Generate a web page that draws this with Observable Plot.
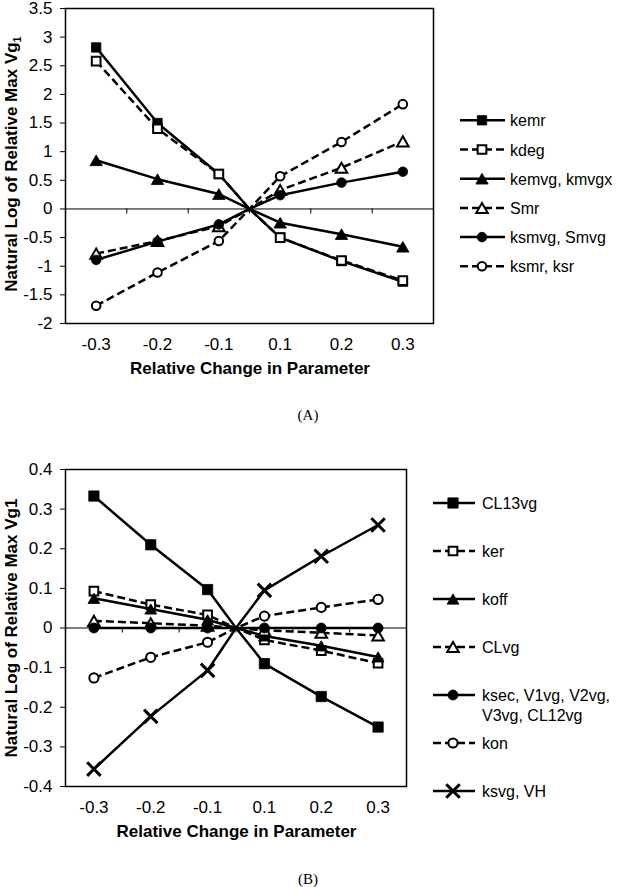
<!DOCTYPE html>
<html><head><meta charset="utf-8">
<script src="https://cdn.jsdelivr.net/npm/d3@7"></script>
<script src="https://cdn.jsdelivr.net/npm/@observablehq/plot@0.6"></script>
<style>
body{margin:0;background:#fff;}
#page{position:relative;width:618px;height:887px;overflow:hidden;background:#fff}
.panel{position:absolute;left:0}
.cap{position:absolute;font-family:"Liberation Serif","DejaVu Serif",serif;font-size:15px;font-variant:small-caps;transform:translate(-50%,-50%);white-space:nowrap}
</style></head><body><div id="page"></div>
<script>
// ---------- shared x categories ----------
const xValues = [-0.3, -0.2, -0.1, 0, 0.1, 0.2, 0.3];
const xTicks = [-0.3, -0.2, -0.1, 0.1, 0.2, 0.3];
const xTickLabels = ["-0.3", "-0.2", "-0.1", "0.1", "0.2", "0.3"];
const xBoundaries = [-0.25, -0.15, 0, 0.15, 0.25];
const xAxisTitle = "Relative Change in Parameter";

// ---------- panel A ----------
const seriesA = ["kemr", "kdeg", "kemvg, kmvgx", "Smr", "ksmvg, Smvg", "ksmr, ksr"];
const kemr  = [2.82, 1.50, 0.61, 0, -0.50, -0.91, -1.27];
const kdeg  = [2.58, 1.40, 0.61, 0, -0.50, -0.90, -1.25];
const kemvg = [0.85, 0.52, 0.26, 0, -0.24, -0.44, -0.66];
const Smr   = [-0.78, -0.56, -0.30, 0, 0.33, 0.72, 1.18];
const ksmvg = [-0.89, -0.57, -0.27, 0, 0.24, 0.46, 0.65];
const ksmr  = [-1.69, -1.11, -0.56, 0, 0.57, 1.17, 1.83];
const valuesA = [kemr, kdeg, kemvg, Smr, ksmvg, ksmr];
const yTicksA = [3.5, 3, 2.5, 2, 1.5, 1, 0.5, 0, -0.5, -1, -1.5, -2];
const yTickLabelsA = ["3.5", "3", "2.5", "2", "1.5", "1", "0.5", "0", "-0.5", "-1", "-1.5", "-2"];
const legendLabelsA = [["kemr"], ["kdeg"], ["kemvg, kmvgx"], ["Smr"], ["ksmvg, Smvg"], ["ksmr, ksr"]];

// ---------- panel B ----------
const seriesB = ["CL13vg", "ker", "koff", "CLvg", "ksec, V1vg, V2vg, V3vg, CL12vg", "kon", "ksvg, VH"];
const CL13vg = [0.333, 0.210, 0.097, 0, -0.090, -0.173, -0.250];
const ker    = [0.093, 0.059, 0.033, 0, -0.030, -0.057, -0.089];
const koff   = [0.075, 0.048, 0.021, 0, -0.020, -0.045, -0.073];
const CLvg   = [0.018, 0.012, 0.006, 0, -0.006, -0.012, -0.019];
const ksec   = [0, 0, 0, 0, 0, 0, 0];
const kon    = [-0.126, -0.074, -0.036, 0, 0.030, 0.052, 0.072];
const ksvg   = [-0.356, -0.223, -0.107, 0, 0.095, 0.181, 0.260];
const valuesB = [CL13vg, ker, koff, CLvg, ksec, kon, ksvg];
const yTicksB = [0.4, 0.3, 0.2, 0.1, 0, -0.1, -0.2, -0.3, -0.4];
const yTickLabelsB = ["0.4", "0.3", "0.2", "0.1", "0", "-0.1", "-0.2", "-0.3", "-0.4"];
const legendLabelsB = [["CL13vg"], ["ker"], ["koff"], ["CLvg"], ["ksec, V1vg, V2vg,", "V3vg, CL12vg"], ["kon"], ["ksvg, VH"]];

// ---------- styles (kept apart from data) ----------
const DASH = "8,4";
const stylesA = [
  {symbol: "square",   fill: "black", dash: null, r: 5.3},
  {symbol: "square",   fill: "white", dash: DASH, r: 4.9},
  {symbol: "triangle", fill: "black", dash: null, r: 4.6},
  {symbol: "triangle", fill: "white", dash: DASH, r: 4.3},
  {symbol: "circle",   fill: "black", dash: null, r: 4.8},
  {symbol: "circle",   fill: "white", dash: DASH, r: 4.3}
];
const stylesB = [
  {symbol: "square",   fill: "black", dash: null, r: 5.8},
  {symbol: "square",   fill: "white", dash: DASH, r: 4.9},
  {symbol: "triangle", fill: "black", dash: null, r: 4.4},
  {symbol: "triangle", fill: "white", dash: DASH, r: 4.3},
  {symbol: "circle",   fill: "black", dash: null, r: 5.0},
  {symbol: "circle",   fill: "white", dash: DASH, r: 4.6},
  {symbol: "times",    fill: "none",  dash: null, r: 6.2}
];
const d3Symbols = {square: d3.symbolSquare, triangle: d3.symbolTriangle, circle: d3.symbolCircle, times: d3.symbolTimes};
const FONT = '"Liberation Sans", Arial, sans-serif';

function triDy(r) { // shift d3 triangle so its bounding box is centred on the point
  const size = Math.PI * r * r;
  return Math.sqrt(size / (3 * Math.sqrt(3))) / 2;
}

function symbolMarks(data, s) {
  const opts = {x: "x", y: "y", symbol: s.symbol, r: s.r};
  if (s.symbol === "times") return Plot.dot(data, {...opts, stroke: "black", strokeWidth: 3, fill: "none"});
  if (s.symbol === "triangle") opts.dy = triDy(s.r);
  if (s.fill === "white") return Plot.dot(data, {...opts, fill: "white", stroke: "black", strokeWidth: 2});
  return Plot.dot(data, {...opts, fill: "black", stroke: "black", strokeWidth: 0.8});
}

function drawPanel(cfg) {
  const {series, values, styles, yDomain, yTicks, yTickLabels, top, height, frame, legend, legendLabels, yTitle, ySub, yTitleCenter, xTitleY} = cfg;
  const W = 618;
  const u = (frame.right - frame.left) / 6;
  const marks = [Plot.ruleY([0], {stroke: "black", strokeWidth: 1})];
  marks.push(Plot.ruleX(xBoundaries, {y1: 0, y2: 0, insetBottom: -5, stroke: "black", strokeWidth: 1}));
  series.forEach((name, i) => {
    const data = xValues.map((x, j) => ({series: name, x, y: values[i][j]}));
    const s = styles[i];
    marks.push(Plot.line(data, {x: "x", y: "y", stroke: "black", strokeWidth: 2.5,
      strokeDasharray: s.dash || undefined, strokeLinecap: s.dash ? "butt" : "round", strokeLinejoin: "round"}));
    marks.push(symbolMarks(data.filter(d => d.x !== 0), s));
  });
  marks.push(Plot.frame({stroke: "black", strokeWidth: 1.5}));

  const svg = Plot.plot({
    width: W, height,
    marginTop: frame.top - top, marginBottom: top + height - frame.bottom,
    marginLeft: frame.left, marginRight: W - frame.right,
    style: {fontFamily: FONT, fontSize: "17px", color: "black", background: "white", overflow: "visible"},
    x: {type: "linear", domain: [-0.35, -0.1, 0, 0.1, 0.35],
        range: [frame.left, frame.left + 2.5 * u, frame.left + 3 * u, frame.left + 3.5 * u, frame.right],
        ticks: xTicks, tickFormat: d => xTickLabels[xTicks.indexOf(d)], tickSize: 0, tickPadding: 14, label: null},
    y: {domain: yDomain, ticks: yTicks, tickFormat: d => yTickLabels[yTicks.indexOf(d)], tickSize: 5, tickPadding: 8, label: null},
    marks
  });
  svg.classList.add("panel");
  svg.style.top = top + "px";
  svg.style.position = "absolute";

  const sel = d3.select(svg);
  // axis titles
  sel.append("text").attr("x", (frame.left + frame.right) / 2 + 1).attr("y", xTitleY - top + 6)
    .attr("text-anchor", "middle").attr("font-family", FONT).attr("font-weight", "bold").attr("font-size", 17)
    .attr("fill", "black").text(xAxisTitle);
  const yt = sel.append("text").attr("transform", `translate(17,${yTitleCenter - top}) rotate(-90)`)
    .attr("text-anchor", "middle").attr("font-family", FONT).attr("font-weight", "bold").attr("font-size", 17).attr("fill", "black");
  yt.append("tspan").text(yTitle);
  if (ySub) yt.append("tspan").attr("font-size", 11).attr("dy", 4).text(ySub);

  // legend
  const g = sel.append("g").attr("text-anchor", "start");
  styles.forEach((s, i) => {
    const yy = legend.y0 + legend.dy * i - top;
    g.append("line").attr("x1", legend.x1).attr("x2", legend.x2).attr("y1", yy).attr("y2", yy)
      .attr("stroke", "black").attr("stroke-width", 2.5).attr("stroke-dasharray", s.dash);
    const p = g.append("path").attr("d", d3.symbol(d3Symbols[s.symbol], Math.PI * s.r * s.r)())
      .attr("transform", `translate(${legend.xm},${yy + (s.symbol === "triangle" ? triDy(s.r) : 0)})`);
    if (s.symbol === "times") p.attr("fill", "none").attr("stroke", "black").attr("stroke-width", 3);
    else if (s.fill === "white") p.attr("fill", "white").attr("stroke", "black").attr("stroke-width", 2);
    else p.attr("fill", "black").attr("stroke", "black").attr("stroke-width", 0.8);
    const t = g.append("text").attr("x", legend.xt).attr("y", yy + 6).attr("font-family", FONT)
      .attr("text-anchor", "start").attr("font-size", 16).attr("fill", "black");
    legendLabels[i].forEach((line, k) => {
      t.append("tspan").attr("x", legend.xt).attr("dy", k === 0 ? 0 : 20).text(line);
    });
  });
  document.getElementById("page").appendChild(svg);
}

drawPanel({
  series: seriesA, values: valuesA, styles: stylesA,
  yDomain: [-2, 3.5], yTicks: yTicksA, yTickLabels: yTickLabelsA,
  top: 0, height: 390,
  frame: {left: 65, right: 433, top: 8, bottom: 323},
  legend: {x1: 460, x2: 505, xm: 482, xt: 510, y0: 120.3, dy: 29.2},
  legendLabels: legendLabelsA,
  yTitle: "Natural Log of Relative Max Vg", ySub: "1", yTitleCenter: 164, xTitleY: 368
});
drawPanel({
  series: seriesB, values: valuesB, styles: stylesB,
  yDomain: [-0.4, 0.4], yTicks: yTicksB, yTickLabels: yTickLabelsB,
  top: 440, height: 400,
  frame: {left: 65, right: 406, top: 469, bottom: 786},
  legend: {x1: 433, x2: 475, xm: 453, xt: 482, y0: 503, dy: 48},
  legendLabels: legendLabelsB,
  yTitle: "Natural Log of Relative Max Vg1", ySub: null, yTitleCenter: 628, xTitleY: 831
});

const page = document.getElementById("page");
[["(A)", 308, 415], ["(B)", 308, 879]].forEach(([txt, x, y]) => {
  const d = document.createElement("div");
  d.className = "cap"; d.textContent = txt;
  d.style.left = x + "px"; d.style.top = y + "px";
  page.appendChild(d);
});
</script></body></html>
